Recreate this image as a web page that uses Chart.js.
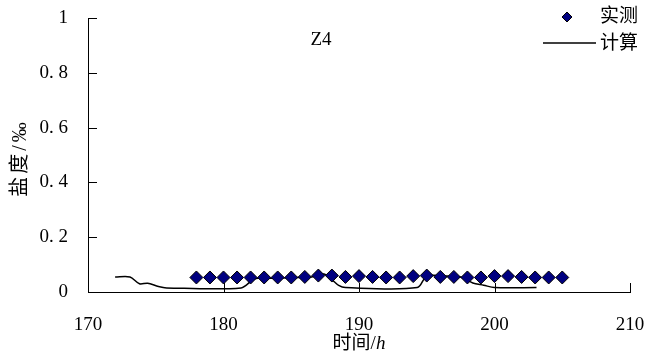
<!DOCTYPE html>
<html lang="zh-CN">
<head>
  <meta charset="UTF-8">
  <title>Z4 盐度</title>
  <script src="https://cdn.jsdelivr.net/npm/chart.js"></script>
  <style>
    html, body { margin: 0; padding: 0; background: #fff; }
    #wrap { width: 648px; height: 359px; }
  </style>
</head>
<body>
  <div id="wrap"><canvas id="grafico" width="648" height="359"></canvas></div>

  <script>
    // 实测 (measured) points
    const horasMedidas = [178, 179, 180, 181, 182, 183, 184, 185, 186, 187, 188, 189, 190, 191,
                          192, 193, 194, 195, 196, 197, 198, 199, 200, 201, 202, 203, 204, 205];
    const salMedidas   = [0.053, 0.053, 0.053, 0.053, 0.053, 0.053, 0.053, 0.053, 0.055, 0.06, 0.06, 0.055, 0.058, 0.055,
                          0.053, 0.053, 0.058, 0.06, 0.055, 0.055, 0.053, 0.053, 0.058, 0.058, 0.055, 0.053, 0.053, 0.053];

    // 计算 (computed) curve
    const horasCalc = [172, 173.1, 173.8, 174.4, 175.2, 175.8, 181.3, 182.3, 183.5, 185, 186.5, 187.4,
                       188.0, 188.5, 189.0, 194.3, 195.0, 196.5, 197.5, 198.4, 199.2, 200.0, 203.1];
    const salCalc   = [0.055, 0.055, 0.03, 0.032, 0.02, 0.015, 0.015, 0.048, 0.05, 0.052, 0.055, 0.066,
                       0.045, 0.024, 0.016, 0.016, 0.058, 0.058, 0.055, 0.033, 0.025, 0.016, 0.016];

    const ticksX = [170, 180, 190, 200, 210];
    const ticksY = [0, 0.2, 0.4, 0.6, 0.8, 1];

    const fonte = "'Liberation Serif', 'Noto Sans CJK SC', serif";

    function rotuloY(v) {
      if (v === 0 || v === 1) return String(v);
      return v.toFixed(1).replace('.', '. ');
    }

    function semPadding(s) {
      s.paddingTop = 0; s.paddingBottom = 0; s.paddingLeft = 0; s.paddingRight = 0;
    }

    // inward tick marks, title and legend
    const extras = {
      id: 'extras',
      afterDraw(chart) {
        const ctx = chart.ctx;
        const { x, y } = chart.scales;
        const area = chart.chartArea;
        ctx.save();
        ctx.strokeStyle = '#000';
        ctx.lineWidth = 1;
        ctx.beginPath();
        ticksX.forEach(v => {
          const px = Math.round(x.getPixelForValue(v)) + 0.5;
          ctx.moveTo(px, area.bottom);
          ctx.lineTo(px, area.bottom - 9);
        });
        ticksY.forEach(v => {
          const py = Math.round(y.getPixelForValue(v)) + 0.5;
          ctx.moveTo(area.left, py);
          ctx.lineTo(area.left + 9, py);
        });
        ctx.stroke();

        ctx.fillStyle = '#000';
        ctx.font = '19px ' + fonte;
        ctx.textAlign = 'center';
        ctx.textBaseline = 'middle';
        ctx.fillText('Z4', 321, 40);

        // x title: 时间/h (h italic)
        const t1 = '时间/';
        ctx.font = 'italic 19px ' + fonte;
        const wH = ctx.measureText('h').width;
        ctx.font = '19px ' + fonte;
        const w1 = ctx.measureText(t1).width;
        const x0 = 359 - (w1 + wH) / 2;
        ctx.textAlign = 'left';
        ctx.fillText(t1, x0, 344);
        ctx.font = 'italic 19px ' + fonte;
        ctx.fillText('h', x0 + w1, 344);

        // y title
        ctx.save();
        ctx.translate(21, 158);
        ctx.rotate(-Math.PI / 2);
        ctx.font = '20px ' + fonte;
        ctx.letterSpacing = '3px';
        ctx.textAlign = 'center';
        ctx.fillText('盐度/‰', 0, 0);
        ctx.restore();

        // legend
        const ds0 = chart.data.datasets[0];
        ctx.fillStyle = ds0.backgroundColor;
        ctx.strokeStyle = ds0.borderColor;
        ctx.lineWidth = 1;
        ctx.beginPath();
        ctx.moveTo(567, 12); ctx.lineTo(572, 17); ctx.lineTo(567, 22); ctx.lineTo(562, 17); ctx.closePath();
        ctx.fill(); ctx.stroke();

        ctx.strokeStyle = '#000';
        ctx.lineWidth = 1.5;
        ctx.beginPath();
        ctx.moveTo(543, 43); ctx.lineTo(596, 43);
        ctx.stroke();

        ctx.fillStyle = '#000';
        ctx.font = '19px ' + fonte;
        ctx.textAlign = 'left';
        ctx.fillText('实测', 600, 17);
        ctx.fillText('计算', 600, 44);
        ctx.restore();
      }
    };

    new Chart(document.getElementById('grafico'), {
      type: 'scatter',
      data: {
        datasets: [
          {
            label: '实测',
            data: horasMedidas.map((h, i) => ({ x: h, y: salMedidas[i] })),
            pointStyle: 'rectRot',
            pointRadius: 6.5,
            pointHoverRadius: 6.5,
            backgroundColor: '#000080',
            borderColor: '#000',
            borderWidth: 1,
            order: 0
          },
          {
            label: '计算',
            type: 'line',
            data: horasCalc.map((h, i) => ({ x: h, y: salCalc[i] })),
            borderColor: '#000',
            borderWidth: 1.5,
            pointRadius: 0,
            tension: 0.3,
            fill: false,
            order: 1
          }
        ]
      },
      options: {
        responsive: false,
        animation: false,
        devicePixelRatio: 1,
        layout: { padding: { left: 0, top: 18, right: 18, bottom: 0 } },
        plugins: {
          legend: { display: false },
          tooltip: { enabled: false }
        },
        scales: {
          x: {
            type: 'linear',
            min: 170, max: 210,
            afterFit: s => { s.height = 67; semPadding(s); },
            afterBuildTicks: s => { s.ticks = ticksX.map(v => ({ value: v })); },
            grid: { display: false, drawTicks: false },
            border: { display: true, color: '#000', width: 1 },
            ticks: { padding: 22, color: '#000', font: { family: fonte, size: 19 } }
          },
          y: {
            min: 0, max: 1,
            afterFit: s => { s.width = 88; semPadding(s); },
            afterBuildTicks: s => { s.ticks = ticksY.map(v => ({ value: v })); },
            grid: { display: false, drawTicks: false },
            border: { display: true, color: '#000', width: 1 },
            ticks: { padding: 20, color: '#000', font: { family: fonte, size: 19 }, callback: v => rotuloY(v) }
          }
        }
      },
      plugins: [extras]
    });
  </script>
</body>
</html>
